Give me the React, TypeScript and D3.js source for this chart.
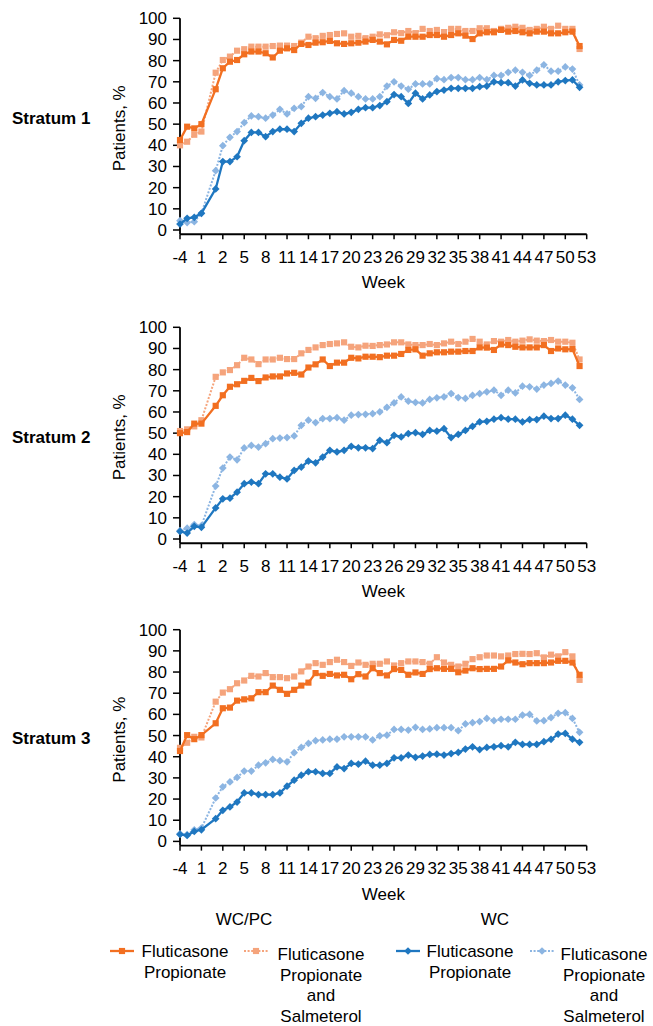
import React from "react";
import * as d3 from "d3";

const width = 653;
const height = 1026;
const font = "'Liberation Sans', Arial, sans-serif";

// one slot per visit; the axis labels every third slot
const tickLabels = ["-4", "1", "2", "5", "8", "11", "14", "17", "20", "23", "26", "29", "32", "35", "38", "41", "44", "47", "50", "53"];
const yTicks = [0, 10, 20, 30, 40, 50, 60, 70, 80, 90, 100];

type V = number | null;

// Stratum 1
const s1FpWcpc: V[] = [42.5, 48.8, 48, 50, null, 66.5, 76.4, 79.5, 80.3, 83, 84.3, 84.3, 83.5, 81.5, 84.7, 85.8, 85, 87.9, 87.4, 88.5, 88.7, 89.3, 88.2, 87.9, 88.2, 88.5, 89, 89.8, 89, 87.7, 89.8, 89.4, 91.3, 91.3, 91.3, 92.1, 92.1, 91.3, 92.1, 92.9, 91.8, 90.2, 92.9, 93.4, 93.4, 94.5, 93.7, 94, 93.4, 92.9, 93.7, 93.7, 92.9, 92.9, 93.4, 93.7, 86.9];
const s1FpsWcpc: V[] = [40, 41.7, 45, 46.5, null, 74.3, 80.3, 81.9, 84.7, 85.4, 86.6, 86.6, 86.6, 86.9, 87.1, 87.1, 86.9, 88.5, 91.3, 90.6, 91.7, 92.1, 92.6, 92.9, 91.3, 91.7, 90.6, 91.3, 92.4, 92, 93.4, 93, 94, 93, 95, 94, 94.5, 93.5, 95, 95, 94, 94, 95.3, 95.3, 94, 95, 95.5, 96, 95.5, 94.5, 95, 96, 95, 96.5, 95, 95, 85.5];
const s1FpWc: V[] = [2.8, 5.5, 6, 7.9, null, 19.4, 32.3, 32.3, 34.6, 42.2, 46.1, 46.1, 44.1, 46.5, 47.6, 47.6, 46.5, 50.4, 52.8, 53.5, 54.3, 55.1, 55.9, 54.8, 55.6, 57, 57.8, 57.8, 58.8, 60.6, 64, 63, 59.8, 64.6, 61.9, 63.8, 65.4, 66.1, 66.9, 66.9, 66.9, 66.9, 67.7, 68, 70, 69.6, 69.6, 68, 70.9, 69.3, 68.5, 68.5, 68.5, 70, 70.6, 70.9, 67.4];
const s1FpsWc: V[] = [4.4, 3.5, 3.9, 7.9, null, 28, 39.8, 43.8, 46.5, 50.7, 53.9, 53.5, 52.8, 54.3, 57, 54.8, 57.5, 58.3, 63, 62.2, 64.9, 63, 61.9, 65.8, 64.6, 63, 61.9, 61.9, 63, 68, 70, 68, 66.5, 69, 69, 69, 71.5, 71, 72, 72, 71, 71, 72, 71, 73, 73, 74.5, 75.5, 74.5, 73, 75.5, 78, 75, 75, 77, 76, 68.5];

// Stratum 2
const s2FpWcpc: V[] = [50, 50.5, 54.5, 54.5, null, 62.9, 67.9, 71.9, 73.1, 74.7, 76.1, 74.6, 76.3, 76.8, 76.8, 78.2, 78.5, 77.7, 81, 82.5, 84.8, 81.7, 83.3, 83.3, 85.6, 85.3, 86.1, 86.1, 85.9, 86.6, 86.6, 87.4, 89.3, 89.6, 86.6, 87.7, 88.2, 88.2, 88.5, 88.5, 88.8, 88.8, 90.5, 90.4, 89.3, 91.9, 91.6, 90.8, 90.5, 90.5, 90.5, 91.6, 88.8, 90, 89.6, 89.7, 81.7];
const s2FpsWcpc: V[] = [51, 51.8, 53.2, 56.1, null, 76.6, 78.7, 79.8, 82.1, 85.6, 84.8, 82.6, 84.8, 84.8, 85.6, 85, 85, 87.7, 89.3, 90.5, 91.6, 92.1, 92.4, 92.9, 90.8, 90.5, 91.3, 91.2, 91.6, 91.9, 92.9, 92.9, 91.9, 91.6, 91.6, 92.1, 91.6, 92.4, 93.2, 92.1, 93.2, 94.5, 93.2, 91.9, 93.5, 93.2, 94, 93.2, 93.7, 94.3, 93.7, 93.5, 94, 93.2, 93.2, 92.7, 84.8];
const s2FpWc: V[] = [3.6, 2.8, 6, 5.5, null, 14.7, 19, 19.3, 22.1, 26.1, 26.9, 26.1, 30.8, 30.8, 29.2, 28.4, 32.4, 34, 36.8, 36, 38.7, 41.9, 41.1, 41.9, 43.8, 43.1, 43.1, 42.7, 46.6, 45.5, 49, 48.2, 49.8, 50.2, 49.4, 51.3, 50.9, 52.1, 47.9, 49.4, 51.3, 53.2, 55.3, 55.6, 56.6, 57.3, 56.6, 56.6, 55.3, 56.4, 56.4, 58, 56.9, 56.9, 58.5, 56.6, 53.7];
const s2FpsWc: V[] = [3.9, 5.1, 6.8, 6.3, null, 25, 33.5, 38.7, 37.4, 43, 44.2, 43.4, 45, 47.4, 47.7, 47.9, 48.7, 53.7, 56.1, 55, 56.9, 56.9, 57.3, 56.1, 58.5, 58.8, 58.9, 59.2, 60, 62.2, 64.3, 67.1, 65.1, 64.5, 64.3, 65.9, 66.7, 67.1, 68.7, 66.8, 66.4, 67.9, 68.7, 69.5, 70.3, 67.9, 70.3, 69, 72.2, 71.9, 70.8, 72.7, 73.5, 74.6, 72.7, 71.4, 65.9];

// Stratum 3
const s3FpWcpc: V[] = [42.7, 50.2, 48.3, 50.2, null, 55.8, 62.9, 63.2, 66.5, 67.1, 67.6, 70.5, 70.5, 73.6, 71.6, 69.7, 71.6, 73.6, 75, 79.5, 78.2, 79.1, 78.4, 78.7, 76.6, 79, 77.9, 81.8, 79.5, 78.4, 81.4, 81, 78.7, 79.8, 79.1, 81.4, 81.8, 81.5, 81.5, 79.9, 80.7, 81.8, 81.4, 81.5, 81.5, 82.6, 85.5, 84.5, 83.7, 84.2, 84.2, 84.2, 84.5, 85.3, 85.3, 84.5, 78.7];
const s3FpsWcpc: V[] = [44.2, 46.6, 49.4, 49.1, null, 66, 70.3, 71.9, 74.7, 76, 78.2, 77.9, 79.5, 77.6, 77.6, 77.1, 77.9, 80.3, 82.6, 84.2, 83.4, 84.7, 85.8, 84.7, 82.9, 84.5, 83.4, 83.9, 83.9, 85, 83.1, 84.2, 85, 85, 84.7, 83.9, 87, 84.5, 83.4, 82.6, 83.9, 86.1, 87, 87.8, 87.8, 87.4, 87.8, 88.5, 88.6, 88.5, 88.9, 86.9, 88.2, 87.4, 89.4, 87.4, 76.3];
const s3FpWc: V[] = [3.3, 2.8, 4.7, 5.5, null, 10.7, 14.7, 16.3, 18.6, 22.9, 22.9, 22.1, 22.1, 22.1, 22.9, 26.1, 28.9, 31.3, 32.9, 32.9, 32.1, 32.1, 35.2, 34.4, 36.8, 36.5, 37.9, 36, 36, 36.8, 39.5, 39.5, 40.8, 39.7, 40.3, 41.1, 41.2, 40.8, 41.5, 42, 43.6, 44.7, 43.4, 44.4, 44.7, 45.2, 44.7, 46.8, 45.8, 45.8, 45.8, 47.1, 48.2, 50.7, 51, 48.3, 46.8];
const s3FpsWc: V[] = [3.6, 3.2, 5.5, 6.3, null, 20.5, 25.8, 28.1, 30.2, 33.2, 33.2, 36, 37.1, 38.7, 38.1, 37.6, 41.9, 44.4, 46.3, 47.6, 47.9, 48.3, 48.3, 49.4, 49.4, 49.4, 49.4, 47.9, 49.9, 50.2, 52.9, 52.9, 52.6, 53.9, 52.9, 53.1, 53.7, 53.7, 53.7, 52.3, 55.5, 56.1, 56.6, 58.1, 57, 57.7, 57.7, 57.7, 59.7, 60, 56.9, 57, 58.5, 60.5, 60.8, 58.1, 51.5];

const orange = "#f26f21";
const lightOrange = "#f5a47c";
const blue = "#1f77c0";
const lightBlue = "#8cb5e2";

// drawing order: dotted series underneath, solid ones on top
const styles = [
  { color: lightOrange, dotted: true, shape: "square" },
  { color: lightBlue, dotted: true, shape: "diamond" },
  { color: orange, dotted: false, shape: "square" },
  { color: blue, dotted: false, shape: "diamond" },
];

const panels = [
  { name: "Stratum 1", top: 18.3, labelY: 124, series: [s1FpsWcpc, s1FpsWc, s1FpWcpc, s1FpWc] },
  { name: "Stratum 2", top: 327.3, labelY: 443, series: [s2FpsWcpc, s2FpsWc, s2FpWcpc, s2FpWc] },
  { name: "Stratum 3", top: 629.7, labelY: 744, series: [s3FpsWcpc, s3FpsWc, s3FpWcpc, s3FpWc] },
];

const legendItems = [
  { color: orange, dotted: false, shape: "square", x0: 110, cx: 185, y: 951, lines: ["Fluticasone", "Propionate"] },
  { color: lightOrange, dotted: true, shape: "square", x0: 244, cx: 321, y: 954, lines: ["Fluticasone", "Propionate", "and", "Salmeterol"] },
  { color: blue, dotted: false, shape: "diamond", x0: 396, cx: 470, y: 951, lines: ["Fluticasone", "Propionate"] },
  { color: lightBlue, dotted: true, shape: "diamond", x0: 530, cx: 604, y: 954, lines: ["Fluticasone", "Propionate", "and", "Salmeterol"] },
];

const x = d3.scaleLinear().domain([0, 57]).range([180, 586.7]);

const squarePath = d3.symbol(d3.symbolSquare, 38)() as string;
const diamondPath = d3.symbol(d3.symbolSquare, 30)() as string;

function Marker({ shape, color, cx, cy }: { shape: string; color: string; cx: number; cy: number }) {
  if (shape === "square") {
    return <path d={squarePath} transform={`translate(${cx},${cy})`} fill={color} />;
  }
  return <path d={diamondPath} transform={`translate(${cx},${cy}) rotate(45)`} fill={color} />;
}

function Panel({ p }: { p: (typeof panels)[number] }) {
  const y = d3.scaleLinear().domain([-2, 100]).range([p.top + 102 * 2.117, p.top]);
  const base = y(-2);
  const line = d3
    .line<[number, number]>()
    .x((d) => x(d[0]))
    .y((d) => y(d[1]));

  return (
    <g>
      <text x={12} y={p.labelY} fontSize={17} fontWeight="bold" fontFamily={font}>
        {p.name}
      </text>
      <text
        transform={`translate(119,${p.top + 110}) rotate(-90)`}
        textAnchor="middle"
        dy="0.35em"
        fontSize={17}
        fontFamily={font}
      >
        Patients, %
      </text>

      {yTicks.map((t) => (
        <g key={t}>
          <line x1={173} x2={180} y1={y(t)} y2={y(t)} stroke="#000" strokeWidth={1.5} />
          <text x={167} y={y(t)} dy="0.35em" textAnchor="end" fontSize={17} fontFamily={font}>
            {t}
          </text>
        </g>
      ))}
      {tickLabels.map((t, i) => (
        <g key={t}>
          <line x1={x(i * 3)} x2={x(i * 3)} y1={base} y2={base + 5} stroke="#000" strokeWidth={1.5} />
          <text x={x(i * 3)} y={base + 28.5} textAnchor="middle" fontSize={17} fontFamily={font}>
            {t}
          </text>
        </g>
      ))}
      <line x1={180} x2={180} y1={y(100)} y2={base} stroke="#000" strokeWidth={1.8} />
      <line x1={180} x2={x(57)} y1={base} y2={base} stroke="#000" strokeWidth={1.8} />
      <text x={x(28.5)} y={base + 54} textAnchor="middle" fontSize={17} fontFamily={font}>
        Week
      </text>

      {p.series.map((vals, si) => {
        const st = styles[si];
        const pts = vals
          .map((v, i) => [i, v] as [number, V])
          .filter((d): d is [number, number] => d[1] !== null);
        return (
          <g key={si}>
            <path
              d={line(pts) ?? ""}
              fill="none"
              stroke={st.color}
              strokeWidth={st.dotted ? 2 : 2.3}
              strokeDasharray={st.dotted ? "2,1.6" : undefined}
            />
            {pts.map((d) => (
              <Marker key={d[0]} shape={st.shape} color={st.color} cx={x(d[0])} cy={y(d[1])} />
            ))}
          </g>
        );
      })}
    </g>
  );
}

export default function App() {
  return (
    <svg
      width={width}
      height={height}
      style={{ position: "absolute", left: 0, top: 0, background: "#fff" }}
    >
      {panels.map((p) => (
        <Panel key={p.name} p={p} />
      ))}

      <text x={244} y={925} textAnchor="middle" fontSize={17} fontFamily={font}>
        WC/PC
      </text>
      <text x={495} y={925} textAnchor="middle" fontSize={17} fontFamily={font}>
        WC
      </text>

      {legendItems.map((it, k) => (
        <g key={k}>
          <line
            x1={it.x0}
            x2={it.x0 + 24}
            y1={951}
            y2={951}
            stroke={it.color}
            strokeWidth={it.dotted ? 2 : 2.3}
            strokeDasharray={it.dotted ? "2,1.6" : undefined}
          />
          <Marker shape={it.shape} color={it.color} cx={it.x0 + 12} cy={951} />
          {it.lines.map((s, j) => (
            <text
              key={j}
              x={it.cx}
              y={it.y + 6 + j * 20.5}
              textAnchor="middle"
              fontSize={17}
              fontFamily={font}
            >
              {s}
            </text>
          ))}
        </g>
      ))}
    </svg>
  );
}
